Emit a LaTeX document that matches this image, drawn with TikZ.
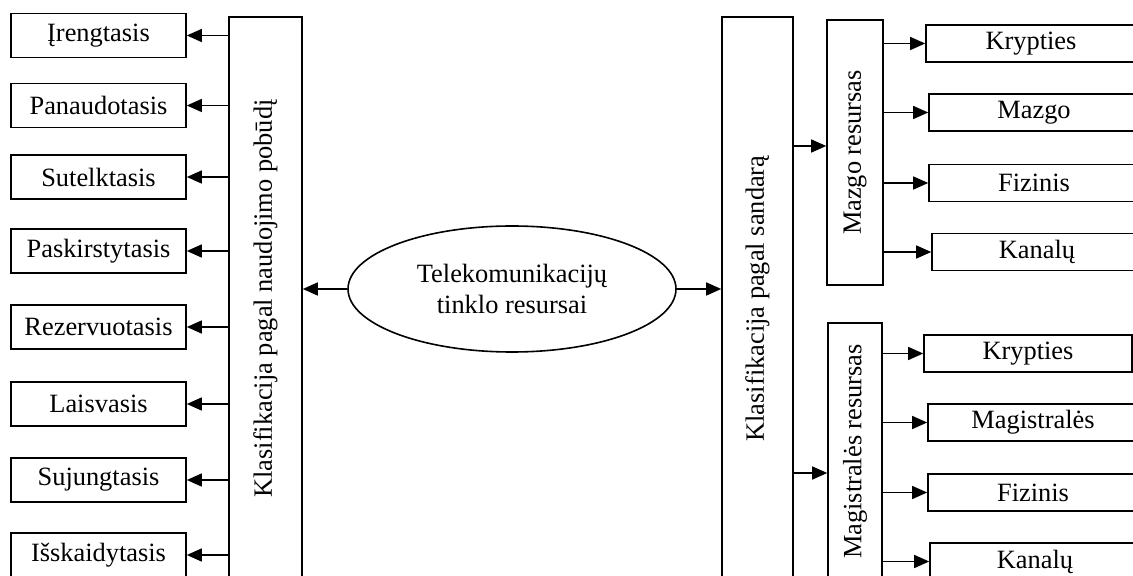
\documentclass[tikz,border=0pt]{standalone}
\usepackage{fontspec}
\setmainfont{Liberation Serif}
\usetikzlibrary{positioning,arrows.meta}
\usetikzlibrary{shapes.geometric}
\tikzstyle{leftbox} = [draw, line width=0.8pt, minimum width=87.5pt, minimum height=22pt, inner sep=0pt]
\tikzstyle{rightbox} = [draw, line width=0.8pt, minimum width=105pt, minimum height=18.5pt, inner sep=0pt]
\tikzstyle{tallbox} = [draw, line width=0.8pt, inner sep=0pt]
\tikzstyle{arr} = [line width=0.7pt, -{Triangle[length=7.5pt,width=6.5pt]}]

\begin{document}
\begin{tikzpicture}[x=0.5pt, y=-0.5pt, font=\fontsize{13.2}{15.5}\selectfont]
\useasboundingbox (0,0) rectangle (1133,576);
\clip (0,0) rectangle (1133,576);

\node[tallbox, minimum width=36.5pt, minimum height=281.5pt] (naud) at (265.5,298.5) {\rotatebox{90}{Klasifikacija pagal naudojimo pobūdį}};
\node[tallbox, minimum width=35.5pt, minimum height=281.5pt] (sand) at (757.5,298.5) {\rotatebox{90}{Klasifikacija pagal sandarą}};

\node[draw, ellipse, line width=0.8pt, inner sep=0pt, minimum width=164pt, minimum height=63pt, align=center] (tr) at (512,289) {Telekomunikacijų\\tinklo resursai};

\node[leftbox] (ireng) at (98.5,35.5) {Įrengtasis};
\node[leftbox] (panaud) at (98.5,105.5) {Panaudotasis};
\node[leftbox] (sutelk) at (98.5,177) {Sutelktasis};
\node[leftbox] (paskir) at (98.5,251) {Paskirstytasis};
\node[leftbox] (rezerv) at (98.5,327) {Rezervuotasis};
\node[leftbox] (laisv) at (98.5,404) {Laisvasis};
\node[leftbox] (sujung) at (98.5,480) {Sujungtasis};
\node[leftbox] (isskaid) at (98.5,555) {Išskaidytasis};

\node[tallbox, minimum width=28pt, minimum height=132.5pt] (mazres) at (855,152.5) {\rotatebox{90}{Mazgo resursas}};
\node[tallbox, minimum width=27pt, minimum height=128.5pt] (magres) at (855,451.5) {\rotatebox{90}{Magistralės resursas}};

\node[rightbox] (mkrypt) at (1031,43.5) {Krypties};
\node[rightbox] (mmazgo) at (1034,112.5) {Mazgo};
\node[rightbox] (mfiz) at (1034,183) {Fizinis};
\node[rightbox] (mkan) at (1037,252) {Kanalų};

\node[rightbox, minimum width=104pt] (gkrypt) at (1028,353.5) {Krypties};
\node[rightbox] (gmagis) at (1033,422.5) {Magistralės};
\node[rightbox] (gfiz) at (1033,492.5) {Fizinis};
\node[rightbox] (gkan) at (1035,561.5) {Kanalų};

\coordinate (mazin) at (800,146);
\coordinate (magin) at (800,473);

\draw[arr] (naud.west |- ireng) -- (ireng.east);
\draw[arr] (naud.west |- panaud) -- (panaud.east);
\draw[arr] (naud.west |- sutelk) -- (sutelk.east);
\draw[arr] (naud.west |- paskir) -- (paskir.east);
\draw[arr] (naud.west |- rezerv) -- (rezerv.east);
\draw[arr] (naud.west |- laisv) -- (laisv.east);
\draw[arr] (naud.west |- sujung) -- (sujung.east);
\draw[arr] (naud.west |- isskaid) -- (isskaid.east);

\draw[arr] (tr.west) -- (naud.east |- tr.west);
\draw[arr] (tr.east) -- (sand.west |- tr.east);

\draw[arr] (sand.east |- mazin) -- (mazres.west |- mazin);
\draw[arr] (sand.east |- magin) -- (magres.west |- magin);

\draw[arr] (mazres.east |- mkrypt) -- (mkrypt.west);
\draw[arr] (mazres.east |- mmazgo) -- (mmazgo.west);
\draw[arr] (mazres.east |- mfiz) -- (mfiz.west);
\draw[arr] (mazres.east |- mkan) -- (mkan.west);

\draw[arr] (magres.east |- gkrypt) -- (gkrypt.west);
\draw[arr] (magres.east |- gmagis) -- (gmagis.west);
\draw[arr] (magres.east |- gfiz) -- (gfiz.west);
\draw[arr] (magres.east |- gkan) -- (gkan.west);

\end{tikzpicture}
\end{document}
